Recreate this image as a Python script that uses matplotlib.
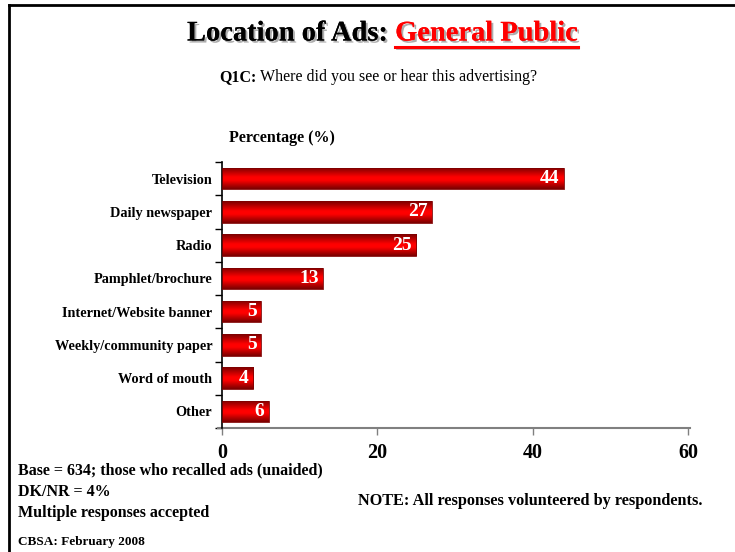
import numpy as np
import matplotlib
matplotlib.use("Agg")
import matplotlib.pyplot as plt
from matplotlib import patheffects as pe
from matplotlib.colors import LinearSegmentedColormap
from matplotlib.lines import Line2D

categories = ["Television", "Daily newspaper", "Radio", "Pamphlet/brochure",
              "Internet/Website banner", "Weekly/community paper",
              "Word of mouth", "Other"]
values = [44, 27, 25, 13, 5, 5, 4, 6]
xticks = [0, 20, 40, 60]

plt.rcParams["font.family"] = ["Liberation Serif", "DejaVu Serif"]
plt.rcParams["font.weight"] = "bold"

W, H = 735, 552
fig = plt.figure(figsize=(W / 100, H / 100), dpi=100)

def fx(px):
    return px / W

def fy(py):
    return 1 - py / H

# frame lines (top and left)
fig.add_artist(Line2D([fx(8.5), 1], [fy(4.5), fy(4.5)], color="black", lw=2))
fig.add_artist(Line2D([fx(8.5), fx(8.5)], [fy(4.5), 0], color="black", lw=2))

ax = fig.add_axes([fx(222), fy(428), fx(688) - fx(222), fy(162) - fy(428)])
y = np.arange(len(categories))
bars = ax.barh(y, values, height=0.64, color="none", edgecolor="none")

# vertical red gradient inside each bar
cmap = LinearSegmentedColormap.from_list(
    "redbar", [(0.0, "#7a0000"), (0.45, "#ff0000"), (0.6, "#ff0000"), (1.0, "#7a0000")])
grad = np.linspace(0, 1, 64).reshape(-1, 1)
for b in bars:
    x0, y0 = b.get_x(), b.get_y()
    w, h = b.get_width(), b.get_height()
    im = ax.imshow(grad, cmap=cmap, aspect="auto", extent=(x0, x0 + w, y0 + h, y0),
                   interpolation="bilinear", zorder=2)
    im.set_clip_path(b)
    b.set_edgecolor("#800000")
    b.set_linewidth(0.6)
    b.set_zorder(3)

for yi, v in zip(y, values):
    ax.annotate(str(v), xy=(v, yi), xytext=(-3, 0), textcoords="offset points",
                ha="right", va="center", color="white", fontsize=14,
                fontweight="bold", zorder=4)

ax.set_xlim(0, 60)
ax.set_ylim(len(categories) - 0.5, -0.5)
ax.set_xticks(xticks)
ax.set_xticklabels([str(t) for t in xticks], fontsize=14.5, fontweight="bold")
ax.set_yticks(y)
ax.set_yticklabels(categories, fontsize=10.3, fontweight="bold")
ax.set_yticks(np.arange(-0.5, len(categories), 1), minor=True)
ax.tick_params(axis="y", which="major", length=0, pad=7)
ax.tick_params(axis="y", which="minor", length=5, width=1, color="black", direction="out")
ax.tick_params(axis="x", length=5, width=1, color="#808080", pad=6)

for s in ["top", "right"]:
    ax.spines[s].set_visible(False)
ax.spines["left"].set_color("black")
ax.spines["left"].set_linewidth(1.2)
ax.spines["bottom"].set_visible(False)
ax.add_artist(Line2D([-4 / 466, 1.005], [0, 0], transform=ax.transAxes,
                     color="#808080", lw=1.5, clip_on=False))
ax.set_facecolor("none")

# title in two colours with a soft shadow
shadow = [pe.withSimplePatchShadow(offset=(1.5, -1.5), shadow_rgbFace="#999999", alpha=0.8),
          pe.Normal()]
t1 = fig.text(fx(187), fy(34), "Location of Ads: ", fontsize=20.5, fontweight="bold",
              color="black", ha="left", va="center", path_effects=shadow)
fig.canvas.draw()
r = fig.canvas.get_renderer()
bb = t1.get_window_extent(r)
t2 = fig.text(bb.x1 / W, fy(34), "General Public", fontsize=20.5, fontweight="bold",
              color="#ff0000", ha="left", va="center", path_effects=shadow)
bb2 = t2.get_window_extent(r)
fig.add_artist(Line2D([bb2.x0 / W, bb2.x1 / W], [fy(46.5), fy(46.5)], color="#ff0000", lw=2.2))
fig.add_artist(Line2D([bb2.x0 / W + 1.5 / W, bb2.x1 / W + 1.5 / W], [fy(48.5), fy(48.5)],
                      color="#aaaaaa", lw=1.2, zorder=0))

# question line
q1 = fig.text(fx(219), fy(77), "Q1C:", fontsize=11.5, fontweight="bold", ha="left", va="center")
fig.canvas.draw()
bq = q1.get_window_extent(r)
fig.text(bq.x1 / W + 4 / W, fy(77), "Where did you see or hear this advertising?",
         fontsize=11.5, fontweight="normal", ha="left", va="center")

fig.text(fx(282), fy(138), "Percentage (%)", fontsize=11.5, fontweight="bold",
         ha="center", va="center")

fig.text(fx(18), fy(470), "Base = 634; those who recalled ads (unaided)", fontsize=11.5,
         fontweight="bold", ha="left", va="center")
fig.text(fx(18), fy(492), "DK/NR = 4%", fontsize=11.5, fontweight="bold", ha="left", va="center")
fig.text(fx(18), fy(513), "Multiple responses accepted", fontsize=11.5, fontweight="bold",
         ha="left", va="center")
fig.text(fx(18), fy(542), "CBSA: February 2008", fontsize=9.5, fontweight="bold",
         ha="left", va="center")
fig.text(fx(358), fy(501), "NOTE: All responses volunteered by respondents.", fontsize=11.7,
         fontweight="bold", ha="left", va="center")

fig.savefig("out.png", dpi=100)
